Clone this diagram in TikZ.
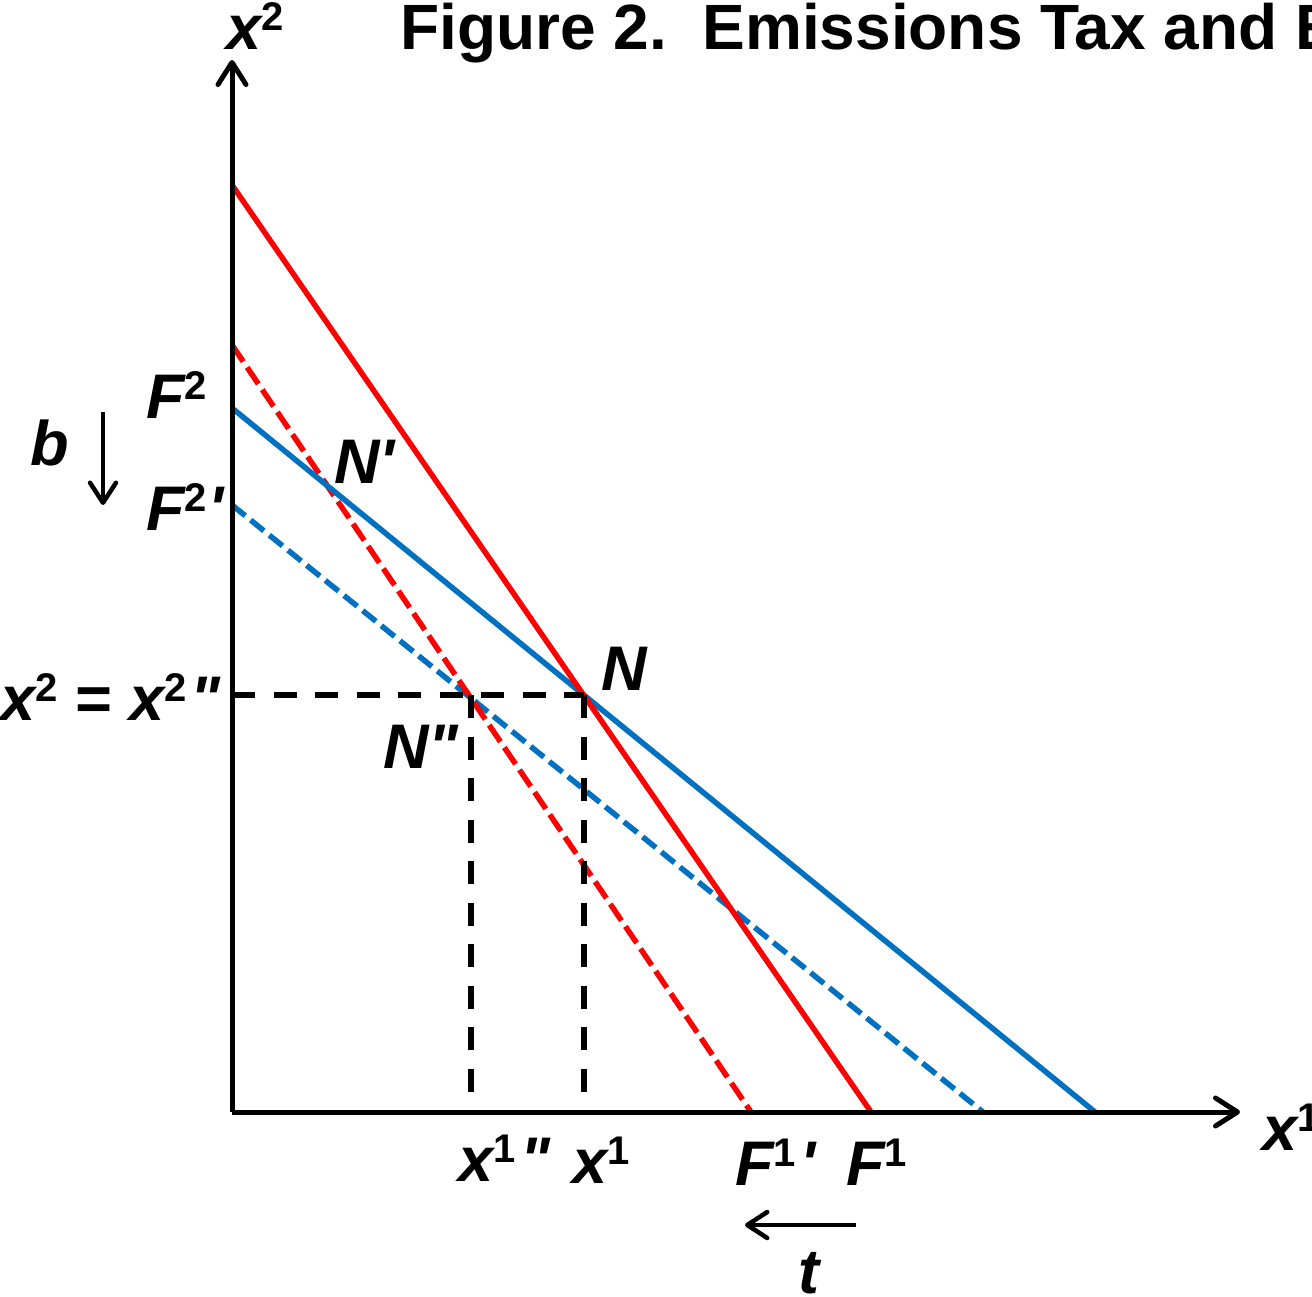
\documentclass[tikz,border=0pt]{standalone}
\usepackage{fontspec}
\setmainfont{Liberation Sans}
\usetikzlibrary{arrows.meta}
\definecolor{myred}{RGB}{255,0,0}
\definecolor{myblue}{RGB}{0,112,192}
\newcommand\mysup[1]{\raisebox{19pt}{\fontsize{40}{40}\selectfont\bfseries\upshape #1}}
\newcommand\myprime{\textquotesingle}
\newcommand\mydprime{\textquotedbl}
\begin{document}
\begin{tikzpicture}[x=1pt,y=-1pt,
  lbl/.style={inner sep=0pt, anchor=base west, font=\fontsize{63}{63}\selectfont\bfseries\itshape},
  ttl/.style={inner sep=0pt, anchor=base west, font=\fontsize{64}{64}\selectfont\bfseries},
  axisline/.style={line width=5pt, -{Straight Barb[length=22pt,width=28pt,round]}},
  smallarrow/.style={line width=4.5pt, -{Straight Barb[length=20pt,width=26pt,round]}},
  redsolid/.style={myred, line width=5.5pt},
  reddash/.style={myred, line width=5.5pt, dash pattern=on 20pt off 7pt},
  bluesolid/.style={myblue, line width=5.5pt},
  bluedash/.style={myblue, line width=5.5pt, dash pattern=on 17pt off 7pt},
  guide/.style={black, line width=5.5pt, dash pattern=on 23pt off 18.5pt}
]
\useasboundingbox (0,0) rectangle (1312,1297);

% coordinates
\coordinate (O) at (232,1112);
\coordinate (Ytop) at (232,60);
\coordinate (Xend) at (1240,1112);
\coordinate (R1a) at (232,185);
\coordinate (R1b) at (871,1112);
\coordinate (R2a) at (232,345);
\coordinate (R2b) at (751,1112);
\coordinate (B1a) at (232,408);
\coordinate (B1b) at (1095,1112);
\coordinate (B2a) at (232,505);
\coordinate (B2b) at (983,1112);
\coordinate (Npt) at (584,695);
\coordinate (NNpt) at (471,695);
\coordinate (Hstart) at (232,695);
\coordinate (Vbot1) at (584,1112);
\coordinate (Vbot2) at (471,1112);

% lines
\draw[bluedash] (B2a) -- (B2b);
\draw[reddash] (R2a) -- (R2b);
\draw[bluesolid] (B1a) -- (B1b);
\draw[redsolid] (R1a) -- (R1b);

% guides
\draw[guide] (Hstart) -- (Npt);
\draw[guide] (Npt) -- (Vbot1);
\draw[guide] (NNpt) -- (Vbot2);

% axes
\draw[axisline] (O) -- (Ytop);
\draw[axisline] (O) -- (Xend);

% labels
\node[lbl] (ylab) at (226,50) {x\mysup{2}};
\node[ttl] (title) at (400,50) {Figure 2.\ \ Emissions Tax and E};
\node[lbl] (F2) at (146,418) {F\mysup{2}};
\node[lbl] (F2p) at (146,530) {F\mysup{2}\kern2pt\myprime};
\node[lbl] (blab) at (30,465) {b};
\node[lbl] (Np) at (334,483) {N\myprime};
\node[lbl] (N) at (601,690) {N};
\node[lbl] (Npp) at (383,768) {N\mydprime};
\node[lbl] (x2eq) at (0,720) {x\mysup{2} = x\mysup{2}\kern4pt\mydprime};
\node[lbl] (x1pp) at (458,1181) {x\mysup{1}\kern5pt\mydprime};
\node[lbl] (x1) at (572,1183) {x\mysup{1}};
\node[lbl] (F1p) at (735,1185) {F\mysup{1}\kern5pt\myprime};
\node[lbl] (F1) at (846,1185) {F\mysup{1}};
\node[lbl] (tlab) at (798,1293) {t};
\node[lbl] (x1r) at (1262,1150) {x\mysup{1}};

% shift arrows
\coordinate (bTop) at (103,412);
\coordinate (bBot) at (103,505);
\draw[smallarrow] (bTop) -- (bBot);
\coordinate (tRight) at (856,1225);
\coordinate (tLeft) at (745,1225);
\draw[smallarrow] (tRight) -- (tLeft);
\end{tikzpicture}
\end{document}
